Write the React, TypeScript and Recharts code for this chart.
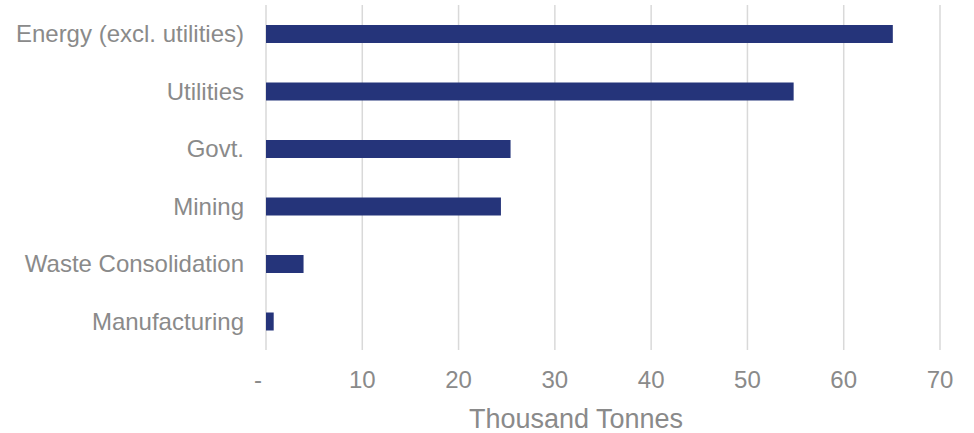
import { BarChart, Bar, XAxis, YAxis, CartesianGrid } from "recharts";

const categories = [
  "Energy (excl. utilities)",
  "Utilities",
  "Govt.",
  "Mining",
  "Waste Consolidation",
  "Manufacturing",
];
const tonnes = [65.1, 54.8, 25.4, 24.4, 3.9, 0.8];
const xTicks = [0, 10, 20, 30, 40, 50, 60, 70];

const data = categories.map((name, i) => ({ name, value: tonnes[i] }));

const TEXT = "#8a8a8a";
const FONT = "'Liberation Sans', Arial, sans-serif";

// eslint-disable-next-line @typescript-eslint/no-explicit-any
function XTick({ x, y, payload }: any) {
  const zero = payload.value === 0;
  return (
    <text
      x={zero ? x - 8 : x}
      y={y}
      dy="0.71em"
      textAnchor="middle"
      fill={TEXT}
      fontSize={24}
      fontFamily={FONT}
    >
      {zero ? "-" : payload.value}
    </text>
  );
}

// eslint-disable-next-line @typescript-eslint/no-explicit-any
function AxisTitle({ viewBox }: any) {
  if (!viewBox) return null;
  return (
    <text
      x={viewBox.x + viewBox.width / 2 - 27}
      y={viewBox.y + 78}
      textAnchor="middle"
      fill={TEXT}
      fontSize={27}
      fontFamily={FONT}
    >
      Thousand Tonnes
    </text>
  );
}

export default function App() {
  return (
    <div style={{ position: "absolute", left: 0, top: 0, background: "#fff" }}>
      <BarChart
        width={974}
        height={433}
        data={data}
        layout="vertical"
        margin={{ top: 5, right: 34, left: 0, bottom: 0 }}
      >
        <CartesianGrid horizontal={false} stroke="#d9d9d9" strokeWidth={1.5} />
        <XAxis
          type="number"
          domain={[0, 70]}
          ticks={xTicks}
          axisLine={false}
          tickLine={false}
          tickSize={0}
          tickMargin={21}
          height={83}
          tick={<XTick />}
          label={<AxisTitle />}
        />
        <YAxis
          type="category"
          dataKey="name"
          width={266}
          axisLine={false}
          tickLine={false}
          tickSize={0}
          tickMargin={22}
          tick={{ fill: TEXT, fontSize: 24, fontFamily: FONT }}
        />
        <Bar dataKey="value" fill="#25347a" barSize={18} isAnimationActive={false} />
      </BarChart>
    </div>
  );
}
